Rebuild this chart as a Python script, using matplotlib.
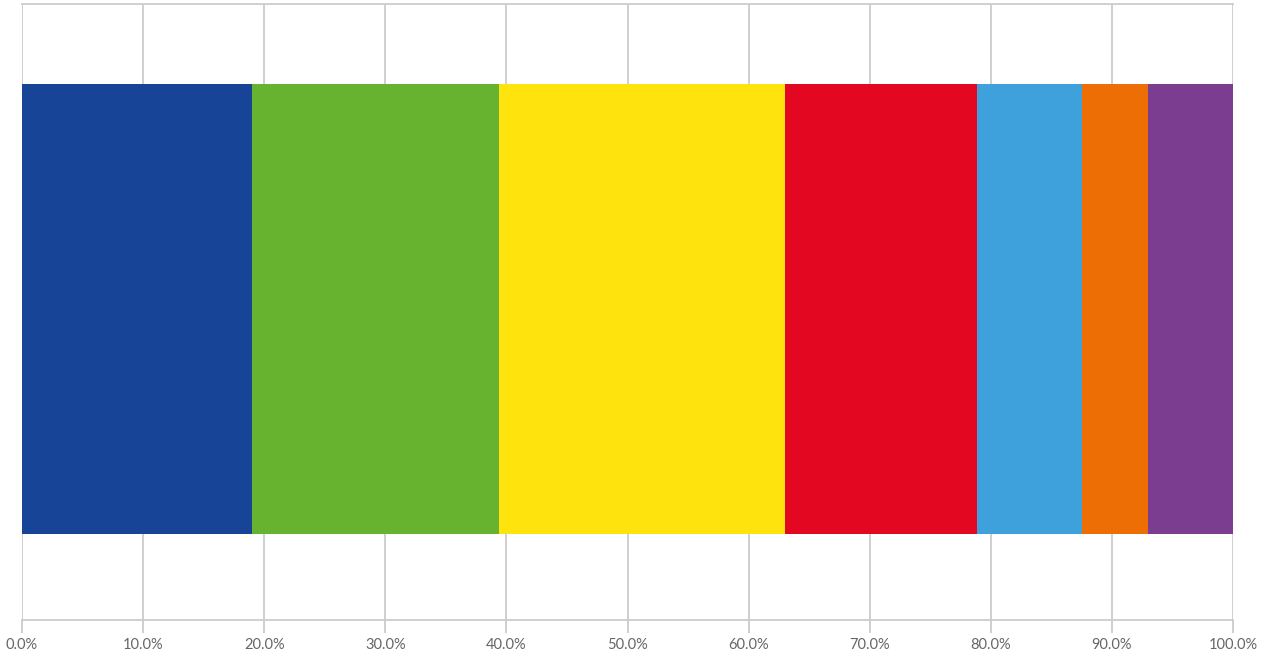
import matplotlib.pyplot as plt
from matplotlib.ticker import FuncFormatter

# segment shares in percent, left to right
shares = [19.0, 20.4, 23.6, 15.9, 8.6, 5.5, 7.0]
colors = ['#174497', '#67b32f', '#fee40c', '#e30722', '#3ea1dc', '#ec6e05', '#7a3d8f']
ticks = [0, 10, 20, 30, 40, 50, 60, 70, 80, 90, 100]

fig = plt.figure(figsize=(12.66, 6.52), dpi=100)
ax = fig.add_axes([22 / 1266, 1 - 620 / 652, (1233 - 22) / 1266, (620 - 4) / 652])

left = 0
for s, c in zip(shares, colors):
    ax.barh(0, s, left=left, height=0.73, color=c, zorder=2)
    left += s

ax.set_xlim(0, 100)
ax.set_ylim(-0.505, 0.495)
ax.set_xticks(ticks)
ax.xaxis.set_major_formatter(FuncFormatter(lambda v, p: f'{v:.1f}%'))
ax.set_yticks([])
ax.grid(axis='x', color='#cccccc', linewidth=1.3, zorder=0)
for sp in ax.spines.values():
    sp.set_color('#cccccc')
    sp.set_linewidth(1.3)
ax.spines['left'].set_visible(False)
ax.spines['right'].set_visible(False)
ax.tick_params(axis='x', length=9, width=1.3, color='#cccccc', labelcolor='#666666',
               labelsize=10.5, pad=4)
for lab in ax.get_xticklabels():
    lab.set_fontfamily('Lato')

fig.savefig('out.png', dpi=100)
